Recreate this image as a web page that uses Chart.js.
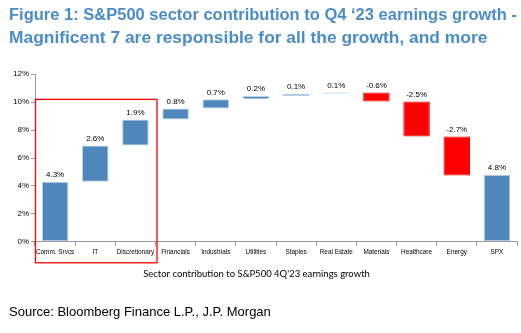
<!DOCTYPE html>
<html><head><meta charset="utf-8">
<script src="https://cdn.jsdelivr.net/npm/chart.js@4/dist/chart.umd.min.js"></script>
<style>html,body{margin:0;padding:0;background:#fff}#wrap{width:521px;height:333px}</style>
</head><body><div id="wrap"><canvas id="c" width="521" height="333"></canvas></div>
<script>
const categories = ['Comm. Srvcs','IT','Discretionary','Financials','Industrials','Utilities','Staples','Real Estate','Materials','Healthcare','Energy','SPX'];
const contributionLabels = ['4.3%','2.6%','1.9%','0.8%','0.7%','0.2%','0.1%','0.1%','-0.6%','-2.5%','-2.7%','4.8%'];
const barStart = [0, 4.3, 6.9, 8.75, 9.55, 10.2, 10.45, 10.6, 10.7, 10.05, 7.55, 0];
const barEnd   = [4.3, 6.9, 8.75, 9.55, 10.2, 10.45, 10.6, 10.7, 10.05, 7.55, 4.75, 4.8];
const yTicks = [0, 2, 4, 6, 8, 10, 12];
const highlightTop = 10.2;   // top of red "Magnificent 7" box (% level)
const highlightCount = 3;    // number of categories inside the box
const xTitle = "Sector contribution to S&P500 4Q'23 earnings growth";

const BLUE = '#4f87bd', RED = '#ff0000';
const colors = barStart.map((s,i)=> barEnd[i] < s ? RED : BLUE);
const borders = barStart.map((s,i)=> barEnd[i] < s ? RED : '#b9d1ea');
const NARROW = '"Liberation Sans Narrow", "Liberation Sans", Arial';

const overlay = {
  id:'overlay',
  afterDatasetsDraw(chart){
    const {ctx, scales:{x,y}} = chart;
    ctx.save();
    ctx.font = '8px ' + NARROW;
    ctx.fillStyle = '#000';
    ctx.textAlign = 'center';
    ctx.textBaseline = 'bottom';
    categories.forEach((c,i)=>{
      const top = Math.max(barStart[i], barEnd[i]);
      ctx.fillText(contributionLabels[i], x.getPixelForValue(i), y.getPixelForValue(top) - 3);
    });
    // condensed category labels
    ctx.textBaseline = 'middle';
    categories.forEach((c,i)=>{
      ctx.save();
      ctx.translate(x.getPixelForValue(i), y.bottom + 10);
      ctx.scale(0.8, 1);
      ctx.fillText(c, 0, 0);
      ctx.restore();
    });
    // axis title
    ctx.font = '9.5px Lato, "Open Sans", sans-serif';
    ctx.fillText(xTitle, chart.width/2 - 4, y.bottom + 32);
    // red box
    const left = x.left;
    const right = (x.getPixelForValue(highlightCount-1) + x.getPixelForValue(highlightCount))/2 + 1;
    const top = y.getPixelForValue(highlightTop);
    const bottom = y.bottom + 21;
    ctx.strokeStyle = RED;
    ctx.lineWidth = 1.3;
    ctx.strokeRect(left+0.5, top, right-left, bottom-top);
    ctx.restore();
  }
};

new Chart(document.getElementById('c'), {
  type:'bar',
  data:{
    labels: categories,
    datasets:[{
      data: barStart.map((s,i)=>[s, barEnd[i]]),
      backgroundColor: colors,
      borderColor: borders,
      borderWidth: 1,
      borderSkipped: false,
      categoryPercentage: 1,
      barPercentage: 0.66
    }]
  },
  options:{
    responsive:false,
    animation:false,
    devicePixelRatio:1,
    layout:{padding:{left:9, right:4, top:0, bottom:0}},
    plugins:{
      legend:{display:false},
      tooltip:{enabled:false},
      title:{
        display:true,
        text:['Figure 1: S&P500 sector contribution to Q4 \u201823 earnings growth -','Magnificent 7 are responsible for all the growth, and more'],
        align:'start',
        color:'#4a8cc8',
        font:{family:'"Liberation Sans", Arial', size:17.4, weight:'bold', lineHeight:1.3},
        padding:{top:4, bottom:25}
      },
      subtitle:{
        display:true,
        position:'bottom',
        align:'start',
        text:'Source: Bloomberg Finance L.P., J.P. Morgan',
        color:'#000',
        font:{family:'"Liberation Sans", Arial', size:13},
        padding:{top:24, bottom:13}
      }
    },
    scales:{
      x:{
        offset:true,
        grid:{display:true, offset:true, drawOnChartArea:false, tickLength:4, color:'#999'},
        border:{color:'#999'},
        ticks:{color:'rgba(0,0,0,0)', font:{family:NARROW, size:8}, maxRotation:0, autoSkip:false, padding:2},
        title:{display:true, text:xTitle, color:'rgba(0,0,0,0)', font:{family:'Lato, "Open Sans", sans-serif', size:10}, padding:{top:9, bottom:0}}
      },
      y:{
        min:0, max:12,
        afterBuildTicks(axis){ axis.ticks = yTicks.map(v=>({value:v})); },
        afterFit(axis){ axis.width = 26; },
        grid:{display:true, drawOnChartArea:false, tickLength:4, color:'#999'},
        border:{color:'#999'},
        ticks:{color:'#000', font:{family:NARROW, size:8}, padding:2, callback:v=>v+'%'}
      }
    }
  },
  plugins:[overlay]
});
</script></body></html>
